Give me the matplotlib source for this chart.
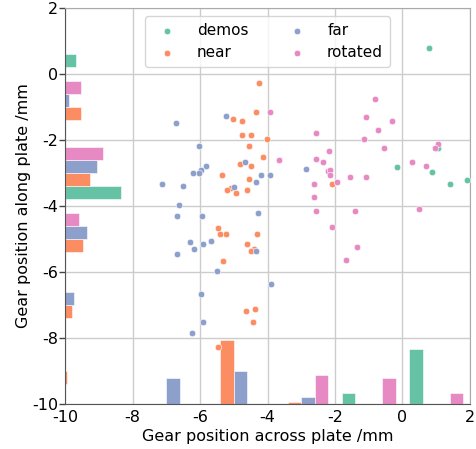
import matplotlib
matplotlib.use('Agg')
import matplotlib.pyplot as plt
import numpy as np

plt.rcParams['axes.unicode_minus'] = False
plt.rcParams['font.family'] = 'DejaVu Sans'

groups = ['demos', 'near', 'far', 'rotated']
colors = ['#66c2a5', '#fc8d62', '#8da0cb', '#e78ac3']

demos_x = [0.78, -0.15, 1.06, 0.88, 1.41, 1.91]
demos_y = [0.80, -2.83, -2.25, -2.96, -3.32, -3.21]

near_x = [-4.26, -4.34, -5.01, -4.75, -4.75, -4.48, -4.02, -4.54, -4.12, -4.81,
          -4.50, -5.36, -4.54, -5.08, -5.21, -4.94, -4.61, -2.08, -5.46, -5.40,
          -5.24, -4.30, -4.61, -4.39, -4.48, -5.31, -4.64, -4.36, -4.43, -5.46]
near_y = [-0.28, -1.16, -1.37, -1.43, -1.84, -1.84, -1.98, -2.18, -2.52, -2.73,
          -2.80, -3.06, -3.19, -3.46, -3.52, -3.61, -3.52, -3.33, -4.66, -4.86,
          -4.86, -4.86, -5.16, -5.30, -5.37, -5.67, -7.18, -7.11, -7.52, -8.28]

far_x = [-6.71, -5.22, -6.04, -4.67, -5.83, -5.97, -6.04, -6.22, -4.19, -4.34,
         -7.13, -6.51, -4.98, -3.93, -2.86, -6.61, -6.68, -5.94, -4.27, -6.31,
         -5.90, -5.67, -6.17, -6.68, -4.34, -5.49, -3.89, -5.97, -5.90, -6.25]
far_y = [-1.49, -1.28, -2.18, -2.66, -2.80, -2.92, -2.99, -3.01, -3.06, -3.26,
         -3.33, -3.39, -3.42, -3.06, -2.88, -3.98, -4.31, -4.31, -4.21, -5.10,
         -5.16, -5.06, -5.30, -5.46, -5.37, -5.98, -6.35, -6.68, -7.51, -7.85]

rotated_x = [-3.93, -3.67, -2.63, -2.56, -1.41, -2.08, -1.34, -1.68, -1.07, -2.56,
             -1.13, -2.17, -2.56, -2.36, -2.22, -2.15, -2.16, -2.63, -1.95, -1.55,
             -1.07, -0.81, -0.32, -0.73, 1.04, 0.97, -0.54, 0.29, 0.70, 0.50]
rotated_y = [-1.16, -2.61, -3.74, -4.15, -4.15, -4.63, -5.23, -5.64, -1.29, -1.78,
             -1.97, -2.32, -2.58, -2.66, -2.94, -2.92, -3.06, -3.33, -3.26, -3.13,
             -3.13, -0.76, -1.43, -1.70, -2.11, -2.25, -2.25, -2.66, -2.79, -4.10]

xs = [demos_x, near_x, far_x, rotated_x]
ys = [demos_y, near_y, far_y, rotated_y]

bins = np.arange(-10, 2.1, 2)
# each marginal histogram is scaled so that a bar is 2 * fraction of the group
weights = [np.full(len(v), 2.0 / len(v)) for v in xs]

fig = plt.figure(figsize=(4.76, 4.49), dpi=100)
ax = fig.add_axes([65 / 476, 1 - 404 / 449, 405 / 476, 396 / 449])
ax.set_axisbelow(True)
ax.grid(True, color='#cccccc', linewidth=1)

for i in range(len(groups)):
    ax.scatter(xs[i], ys[i], s=22, color=colors[i], edgecolor='white',
               linewidth=0.4, label=groups[i], zorder=3)

ax.hist(xs, bins=bins, weights=weights, bottom=-10, color=colors,
        edgecolor='white', linewidth=0.4, zorder=2)
ax.hist(ys, bins=bins, weights=weights, bottom=-10, color=colors,
        orientation='horizontal', edgecolor='white', linewidth=0.4, zorder=2)

ax.set_xlim(-10, 2)
ax.set_ylim(-10, 2)
ax.set_xticks(bins)
ax.set_yticks(bins)
ax.tick_params(axis='x', length=0, labelsize=11.5, pad=4)
ax.tick_params(axis='y', length=4, width=1, color='#444444', labelsize=11.5, pad=1)
for side in ['left', 'bottom']:
    ax.spines[side].set_color('#555555')
for side in ['top', 'right']:
    ax.spines[side].set_color('#aaaaaa')

ax.set_xlabel('Gear position across plate /mm', fontsize=11.5, labelpad=3)
ax.set_ylabel('Gear position along plate /mm', fontsize=11.5, labelpad=1)

ax.legend(loc='upper center', ncol=2, fontsize=11, markerscale=1,
          columnspacing=2.2, handletextpad=0.95, borderpad=0.45)

plt.savefig('out.png', dpi=100)
